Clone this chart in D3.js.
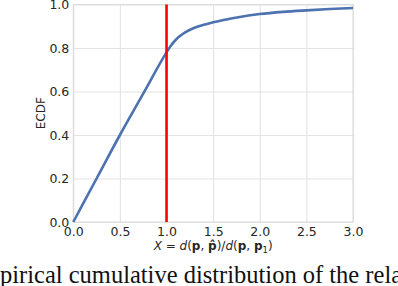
<!DOCTYPE html>
<html>
<head>
<meta charset="utf-8">
<script src="https://cdn.jsdelivr.net/npm/d3@7"></script>
<style>
  body { margin: 0; background: #fff; }
  svg { display: block; }
</style>
</head>
<body>
<div id="chart"></div>
<script>
const width = 398,
   height = 286,
   margin = {top: 4.5, right: 45, bottom: 64, left: 73.3};

// ECDF curve
const ratioValues = [0, 0.25, 0.5, 0.75, 1.0, 1.05, 1.1, 1.15, 1.2, 1.3, 1.4, 1.5, 1.6, 1.8, 2.0, 2.25, 2.5, 2.75, 3.0];
const ecdfValues = [0, 0.20, 0.40, 0.59, 0.78, 0.813, 0.838, 0.857, 0.872, 0.893, 0.907, 0.918, 0.928, 0.944, 0.956, 0.966, 0.973, 0.979, 0.984];
const xTicks = [0, 0.5, 1.0, 1.5, 2.0, 2.5, 3.0];
const yTicks = [0, 0.2, 0.4, 0.6, 0.8, 1.0];
const markerX = 1.0;

const svg = d3.select('#chart')
   .append('svg')
   .attr('width', width)
   .attr('height', height);

const innerW = width - margin.left - margin.right,
   innerH = 222 - margin.top;

const x = d3.scaleLinear().domain([0, 3]).range([0, innerW]);
const y = d3.scaleLinear().domain([0, 1]).range([innerH, 0]);

const g = svg.append('g')
   .attr('transform', `translate(${margin.left},${margin.top})`);

// grid
g.append('g')
   .attr('transform', `translate(0,${innerH})`)
   .call(d3.axisBottom(x).tickValues(xTicks).tickSize(-innerH).tickFormat(''))
   .call(a => a.select('.domain').remove())
   .selectAll('line').attr('stroke', '#e3e3e3').attr('stroke-width', 1.1);

g.append('g')
   .call(d3.axisLeft(y).tickValues(yTicks).tickSize(-innerW).tickFormat(''))
   .call(a => a.select('.domain').remove())
   .selectAll('line').attr('stroke', '#e3e3e3').attr('stroke-width', 1.1);

g.append('rect')
   .attr('width', innerW)
   .attr('height', innerH)
   .attr('fill', 'none')
   .attr('stroke', '#dcdcdc')
   .attr('stroke-width', 1.1);

// tick labels
const xAxis = g.append('g')
   .attr('transform', `translate(0,${innerH})`)
   .call(d3.axisBottom(x).tickValues(xTicks).tickSize(0).tickPadding(5).tickFormat(d3.format('.1f')));
xAxis.select('.domain').remove();
xAxis.selectAll('text')
   .attr('font-family', 'DejaVu Sans')
   .attr('font-size', 12.5)
   .attr('fill', '#262626');

const yAxis = g.append('g')
   .call(d3.axisLeft(y).tickValues(yTicks).tickSize(0).tickPadding(4).tickFormat(d3.format('.1f')));
yAxis.select('.domain').remove();
yAxis.selectAll('text')
   .attr('font-family', 'DejaVu Sans')
   .attr('font-size', 12.5)
   .attr('fill', '#262626');

// curve
const line = d3.line()
   .x((d, i) => x(ratioValues[i]))
   .y(d => y(d))
   .curve(d3.curveMonotoneX);

g.append('path')
   .datum(ecdfValues)
   .attr('d', line)
   .attr('fill', 'none')
   .attr('stroke', '#4c72b0')
   .attr('stroke-width', 2.6);

g.append('line')
   .attr('x1', x(markerX))
   .attr('x2', x(markerX))
   .attr('y1', y(0))
   .attr('y2', y(1))
   .attr('stroke', '#ff0000')
   .attr('stroke-width', 2.6);

// axis titles
svg.append('text')
   .attr('transform', `translate(45,${margin.top + innerH / 2}) rotate(-90)`)
   .attr('text-anchor', 'middle')
   .attr('font-family', 'DejaVu Sans')
   .attr('font-size', 12)
   .attr('fill', '#262626')
   .text('ECDF');

const xt = svg.append('text')
   .attr('x', margin.left + innerW / 2)
   .attr('y', 250)
   .attr('text-anchor', 'middle')
   .attr('font-family', 'DejaVu Sans')
   .attr('font-size', 12)
   .attr('fill', '#262626');
xt.append('tspan').attr('font-style', 'italic').text('X');
xt.append('tspan').text(' = ');
xt.append('tspan').attr('font-style', 'italic').text('d');
xt.append('tspan').text('(');
xt.append('tspan').attr('font-weight', 'bold').text('p');
xt.append('tspan').text(', ');
xt.append('tspan').attr('font-weight', 'bold').text('p\u0302');
xt.append('tspan').text(')/');
xt.append('tspan').attr('font-style', 'italic').text('d');
xt.append('tspan').text('(');
xt.append('tspan').attr('font-weight', 'bold').text('p');
xt.append('tspan').text(', ');
xt.append('tspan').attr('font-weight', 'bold').text('p');
xt.append('tspan').attr('font-size', 8.5).attr('dy', 2.5).text('1');
xt.append('tspan').attr('dy', -2.5).text(')');

// caption of the paper, cut at both sides
const cap = svg.append('text')
   .attr('y', 283)
   .attr('font-family', 'Liberation Serif')
   .attr('font-size', 24.5)
   .attr('fill', '#111')
   .text('Em');
const emW = cap.node().getComputedTextLength();
cap.attr('x', -emW).text('Empirical cumulative distribution of the relative error');
</script>
</body>
</html>
